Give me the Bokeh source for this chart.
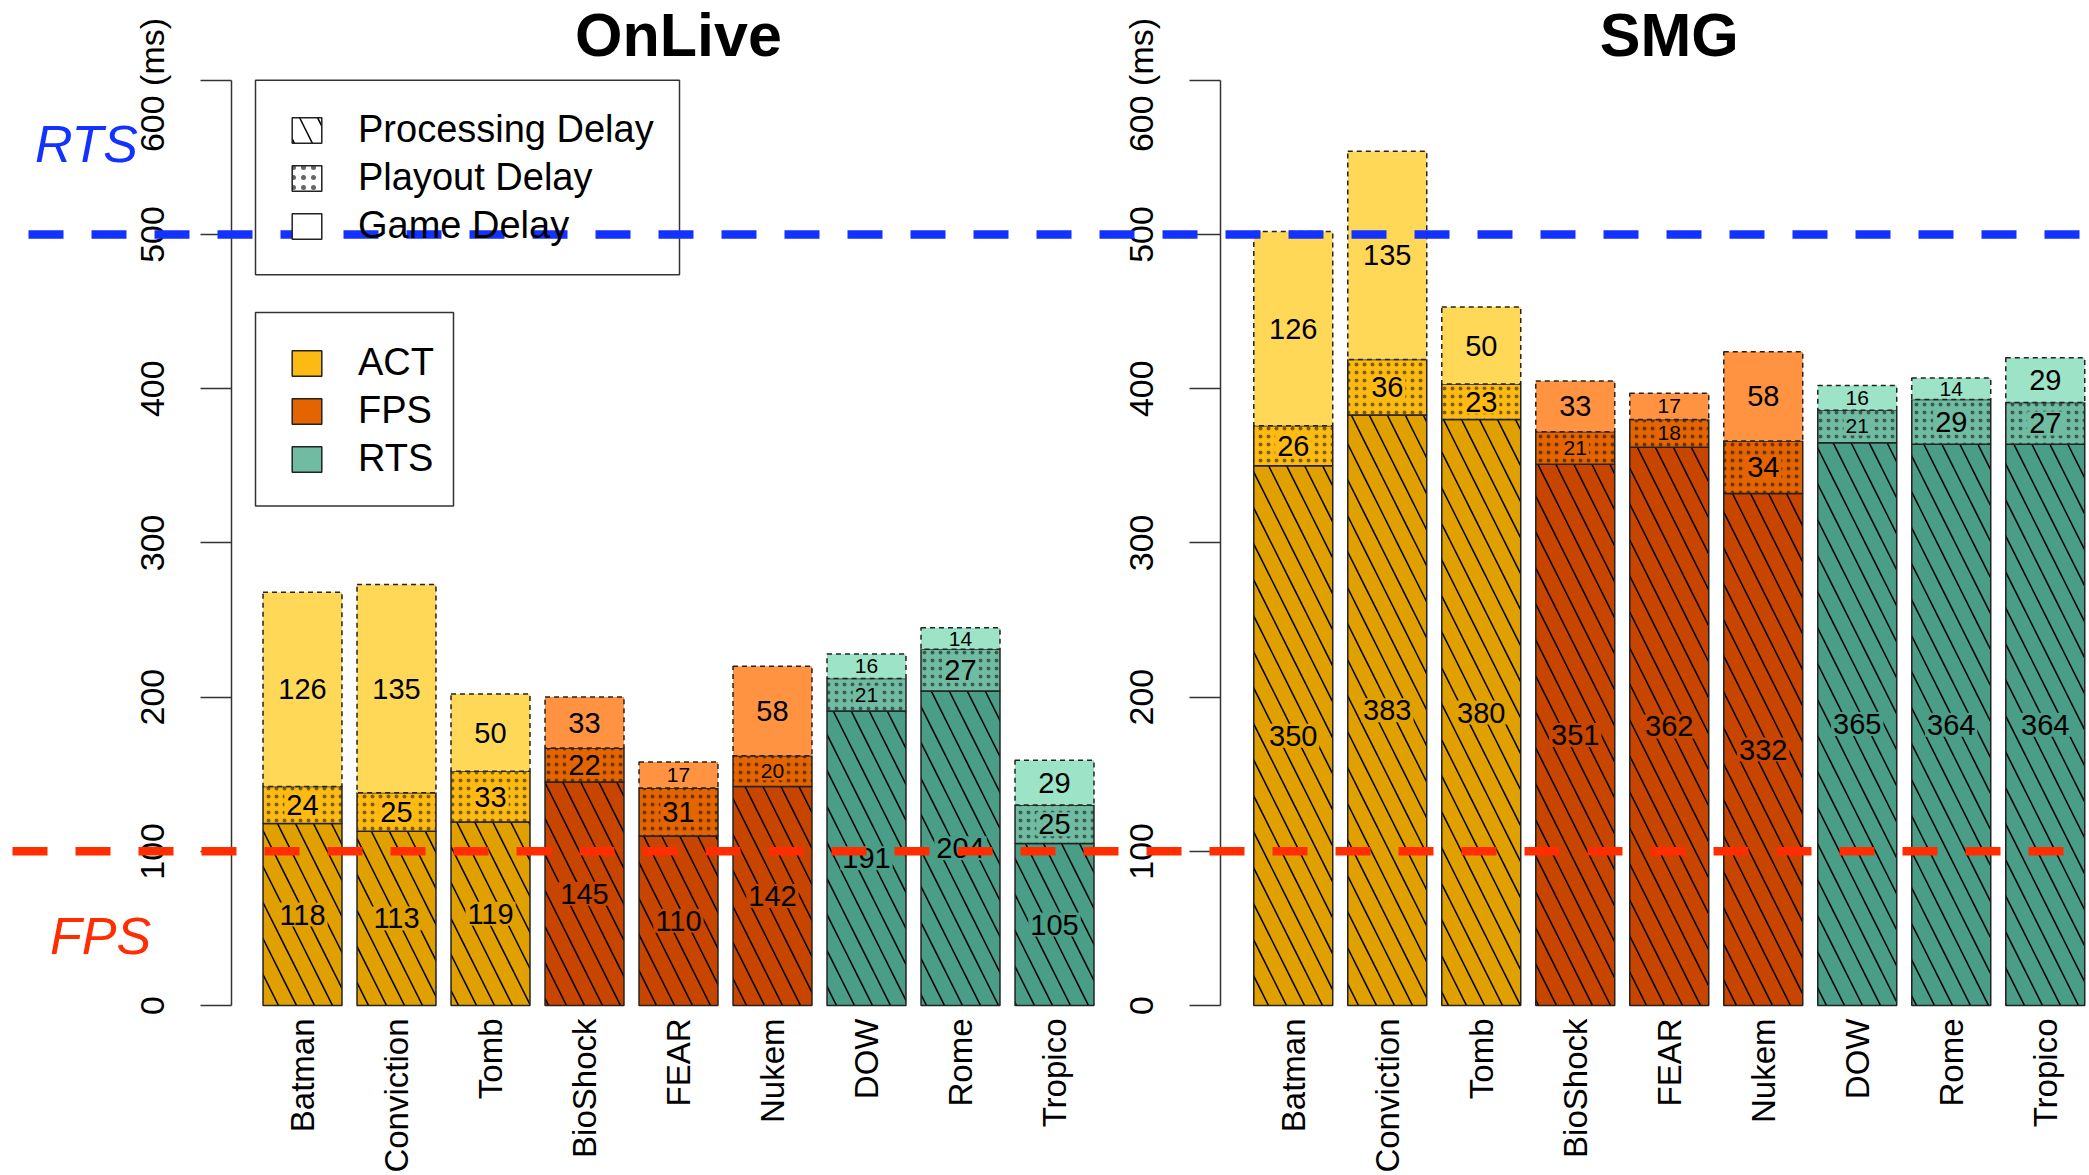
import math

from bokeh.plotting import figure
from bokeh.models import (ColumnDataSource, LinearAxis, FixedTicker, Range1d, Span,
                          Label, Legend, LegendItem, BoxAnnotation)
from bokeh.core.properties import value
from bokeh.embed import file_html
from bokeh.resources import INLINE

# ---- data -------------------------------------------------------------
games = ["Batman", "Conviction", "Tomb", "BioShock", "FEAR", "Nukem", "DOW", "Rome", "Tropico"]
genres = ["ACT", "ACT", "ACT", "FPS", "FPS", "FPS", "RTS", "RTS", "RTS"]
platforms = ["OnLive", "SMG"]

onlive_processing = [118, 113, 119, 145, 110, 142, 191, 204, 105]
onlive_playout = [24, 25, 33, 22, 31, 20, 21, 27, 25]
onlive_game = [126, 135, 50, 33, 17, 58, 16, 14, 29]

smg_processing = [350, 383, 380, 351, 362, 332, 365, 364, 364]
smg_playout = [26, 36, 23, 21, 18, 34, 21, 29, 27]
smg_game = [126, 135, 50, 33, 17, 58, 16, 14, 29]

y_ticks = [0, 100, 200, 300, 400, 500, 600]
fps_threshold = 100
rts_threshold = 500

# ---- styling ----------------------------------------------------------
shade = {
    "ACT": {"processing": "#E0A000", "playout": "#FDBA12", "game": "#FFD858"},
    "FPS": {"processing": "#C84500", "playout": "#E36400", "game": "#FF9341"},
    "RTS": {"processing": "#4A9D86", "playout": "#70BCA2", "game": "#9DE3C8"},
}
FONT = "Liberation Sans"
EDGE = "#222222"

W, H = 2089, 1175
ZERO_PX = 1008            # canvas row of the 0 ms baseline
FRAME_BOTTOM = 1020       # frame ends just above the game-name axis
PX_PER_MS = 928 / 600     # vertical scale
X0_PX, PITCH = 302, 94    # centre of first bar and bar pitch in px
GROUP_OFFSET = 10.54      # second panel shift, in bar pitches
BAR_W = 0.84
AXIS_X = [(231 - X0_PX) / PITCH, (1220 - X0_PX) / PITCH]


def dx(px):
    """canvas column -> x data value"""
    return (px - X0_PX) / PITCH


def dy(px):
    """canvas row -> ms value"""
    return (ZERO_PX - px) / PX_PER_MS


p = figure(width=W, height=H, output_backend="svg", toolbar_location=None,
           x_range=Range1d(dx(0), dx(W)),
           y_range=Range1d(dy(FRAME_BOTTOM), dy(0)),
           x_axis_type=None, y_axis_type=None,
           min_border_left=0, min_border_right=0, min_border_top=0,
           min_border_bottom=140)
p.outline_line_color = None
p.background_fill_color = "white"
p.border_fill_color = "white"

diag_style = dict(hatch_pattern="\\", hatch_scale=36, hatch_weight=1.5, hatch_color="black")
dots_style = dict(hatch_pattern=".", hatch_scale=8, hatch_alpha=0.5, hatch_color="black")

series = [
    (onlive_processing, onlive_playout, onlive_game),
    (smg_processing, smg_playout, smg_game),
]

all_centers, all_names = [], []
label_rows = dict(x=[], y=[], text=[], size=[], bg=[])

for g, (proc, play, game) in enumerate(series):
    centers = [g * GROUP_OFFSET + i for i in range(len(games))]
    all_centers += centers
    all_names += games
    top1 = proc
    top2 = [a + b for a, b in zip(proc, play)]
    top3 = [a + b for a, b in zip(top2, game)]
    parts = [
        ("processing", [0] * len(proc), top1, proc, diag_style, "solid"),
        ("playout", top1, top2, play, dots_style, "solid"),
        ("game", top2, top3, game, {}, "5 4"),
    ]
    for kind, bottoms, tops, vals, hatch, dash in parts:
        colors = [shade[gen][kind] for gen in genres]
        src = ColumnDataSource(dict(x=centers, bottom=bottoms, top=tops, color=colors))
        p.vbar(x="x", bottom="bottom", top="top", width=BAR_W, source=src,
               fill_color="color", line_color=EDGE, line_width=1.5, line_dash=dash, **hatch)
        for cx, b, v, c in zip(centers, bottoms, vals, colors):
            label_rows["x"].append(cx)
            label_rows["y"].append(b + v / 2)
            label_rows["text"].append(str(v))
            label_rows["size"].append("29px" if v > 21 else "21px")
            label_rows["bg"].append(c)

    # panel title centred over its bars
    p.add_layout(Label(x=sum(centers) / len(centers), y=dy(57 - 0.37 * 61),
                       text=platforms[g], text_font=FONT, text_font_style="bold",
                       text_font_size="61px", text_align="center",
                       text_baseline="alphabetic", text_color="black"))

    yax = LinearAxis(fixed_location=AXIS_X[g], bounds=(0, 600),
                     ticker=FixedTicker(ticks=y_ticks, minor_ticks=[]),
                     major_label_overrides={600: "600  (ms)"},
                     major_label_orientation="vertical",
                     major_tick_out=31, major_tick_in=0, minor_tick_out=0, minor_tick_in=0,
                     major_label_standoff=29,
                     axis_line_color="#333333", axis_line_width=1.5,
                     major_tick_line_color="#333333", major_tick_line_width=1.5,
                     major_label_text_font=FONT, major_label_text_font_size="34px",
                     major_label_text_color="black")
    p.add_layout(yax, "left")

lab_src = ColumnDataSource(label_rows)
p.text(x="x", y="y", text="text", source=lab_src, text_font=value(FONT),
       text_font_size="size", text_align="center", text_baseline="middle",
       text_color="black", background_fill_color="bg", padding=2)

xax = LinearAxis(ticker=FixedTicker(ticks=all_centers, minor_ticks=[]),
                 major_label_overrides={c: n for c, n in zip(all_centers, all_names)},
                 major_label_orientation=math.pi / 2, axis_line_color=None,
                 major_tick_line_color=None, minor_tick_line_color=None,
                 major_tick_out=0, major_tick_in=0, major_label_standoff=1,
                 major_label_text_font=FONT, major_label_text_font_size="33px",
                 major_label_text_color="black")
p.add_layout(xax, "below")

# ---- legends ----------------------------------------------------------
# key glyphs are not drawn in the plot; only their legend swatches show
hidden = dict(x=[0], top=[1], width=0.5, visible=False)
key_proc = p.vbar(**hidden, fill_color="white", line_color=EDGE, line_width=1.5, **diag_style)
key_play = p.vbar(**hidden, fill_color="white", line_color=EDGE, line_width=1.5,
                  hatch_pattern=".", hatch_scale=10, hatch_alpha=0.6, hatch_color="black")
key_game = p.vbar(**hidden, fill_color="white", line_color=EDGE, line_width=1.5)
genre_keys = [p.vbar(**hidden, fill_color=shade[gname]["playout"], line_color=EDGE,
                     line_width=1.5) for gname in ["ACT", "FPS", "RTS"]]

for left, top, right, bottom in [(255, 80, 679, 275), (255, 313, 453, 507)]:
    p.add_layout(BoxAnnotation(left=dx(left), right=dx(right), top=dy(top), bottom=dy(bottom),
                               fill_color="white", fill_alpha=1.0, line_color="#333333",
                               line_width=1.5, line_alpha=1.0))

legend_style = dict(label_text_font=FONT, label_text_font_size="38px",
                    label_text_color="black", glyph_width=37, glyph_height=32,
                    label_standoff=33, padding=0, spacing=5, margin=0,
                    border_line_color=None, background_fill_alpha=0.0,
                    inactive_fill_alpha=0.0)
leg1 = Legend(items=[LegendItem(label="Processing Delay", renderers=[key_proc]),
                     LegendItem(label="Playout Delay", renderers=[key_play]),
                     LegendItem(label="Game Delay", renderers=[key_game])],
              location=(288, FRAME_BOTTOM - 250), **legend_style)
leg2 = Legend(items=[LegendItem(label=gname, renderers=[r])
                     for gname, r in zip(["ACT", "FPS", "RTS"], genre_keys)],
              location=(288, FRAME_BOTTOM - 483), **legend_style)
p.add_layout(leg1)
p.add_layout(leg2)

# ---- threshold lines and their tags ----------------------------------
p.add_layout(Span(location=rts_threshold, dimension="width", line_color="#1432FF",
                  line_width=8.5, line_dash="35 28", line_dash_offset=35))
p.add_layout(Span(location=fps_threshold, dimension="width", line_color="#FF2D00",
                  line_width=8.5, line_dash="35 28", line_dash_offset=51))
p.add_layout(Label(x=dx(86), y=dy(163 - 0.37 * 52), text="RTS",
                   text_font=FONT, text_font_style="italic", text_font_size="52px",
                   text_color="#1432FF", text_align="center", text_baseline="alphabetic"))
p.add_layout(Label(x=dx(100), y=dy(957 - 0.37 * 52), text="FPS",
                   text_font=FONT, text_font_style="italic", text_font_size="52px",
                   text_color="#FF2D00", text_align="center", text_baseline="alphabetic"))

open("out.html", "w").write(file_html(p, INLINE))
